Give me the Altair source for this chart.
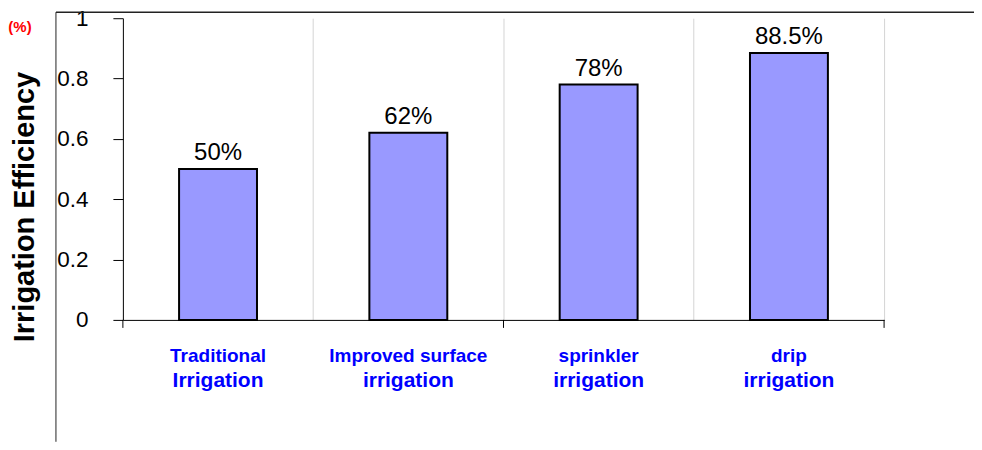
import altair as alt
import pandas as pd

# ---- data ----
label_line1 = ["Traditional", "Improved surface", "sprinkler", "drip"]
label_line2 = ["Irrigation", "irrigation", "irrigation", "irrigation"]
efficiency = [0.50, 0.62, 0.78, 0.885]
value_labels = ["50%", "62%", "78%", "88.5%"]
y_ticks = [0, 0.2, 0.4, 0.6, 0.8, 1]
y_title = ["Irrigation Efficiency"]
unit_note = ["(%)"]

categories = [f"{a} {b}" for a, b in zip(label_line1, label_line2)]
df = pd.DataFrame({
    "cat": categories,
    "line1": label_line1,
    "line2": label_line2,
    "eff": efficiency,
    "lab": value_labels,
})

W, H = 762, 302
FONT = "Liberation Sans"
BLUE = "#0000ff"

x_enc = alt.X(
    "cat:N", sort=categories,
    scale=alt.Scale(paddingInner=0, paddingOuter=0),
    axis=alt.Axis(title=None, labels=False, ticks=False, domain=True,
                  domainColor="black", domainWidth=1, grid=True,
                  gridColor="#d4d4d4", gridWidth=1, bandPosition=1),
)
y_enc = alt.Y(
    "eff:Q",
    scale=alt.Scale(domain=[0, 1], nice=False, zero=True),
    axis=alt.Axis(title=None, values=y_ticks, format=".1~f", grid=False,
                  domainColor="black", tickColor="black", tickSize=10,
                  labelFont=FONT, labelFontSize=22.5, labelColor="black",
                  labelPadding=25),
)

base = alt.Chart(df)

bars = base.mark_bar(size=78, fill="#9999ff", stroke="black", strokeWidth=2).encode(
    x=x_enc, y=y_enc
)

values_txt = base.mark_text(dy=-9, baseline="alphabetic", fontSize=24, font=FONT,
                            color="black").encode(
    x=alt.X("cat:N", sort=categories), y=alt.Y("eff:Q"), text="lab:N"
)

lab1 = base.mark_text(baseline="alphabetic", fontSize=19, font=FONT,
                      fontWeight="bold", color=BLUE).encode(
    x=alt.X("cat:N", sort=categories), y=alt.value(344), text="line1:N"
)
lab2 = base.mark_text(baseline="alphabetic", fontSize=21, font=FONT,
                      fontWeight="bold", color=BLUE).encode(
    x=alt.X("cat:N", sort=categories), y=alt.value(369), text="line2:N"
)

# x-axis tick marks every second category boundary
ticks_end = alt.Chart(df.iloc[[1, 3]]).mark_rule(color="black", strokeWidth=1).encode(
    x=alt.X("cat:N", sort=categories, bandPosition=1),
    y=alt.value(H), y2=alt.value(H + 8),
)
ticks_start = alt.Chart(df.iloc[[0]]).mark_rule(color="black", strokeWidth=1).encode(
    x=alt.X("cat:N", sort=categories, bandPosition=0),
    y=alt.value(H), y2=alt.value(H + 8),
)

title_df = pd.DataFrame({"t": y_title})
ytitle = alt.Chart(title_df).mark_text(angle=270, fontSize=29, fontWeight="bold",
                                       font=FONT, baseline="middle", align="center",
                                       color="black").encode(
    x=alt.value(-98), y=alt.value(189), text="t:N"
)

note_df = pd.DataFrame({"t": unit_note})
note = alt.Chart(note_df).mark_text(fontSize=15, fontWeight="bold", font=FONT,
                                    baseline="middle", align="center",
                                    color="#ff0000").encode(
    x=alt.value(-103), y=alt.value(9), text="t:N"
)

frame_df = pd.DataFrame({"k": [0]})
frame_v = alt.Chart(frame_df).mark_rule(color="#222222", strokeWidth=1).encode(
    x=alt.value(-67), y=alt.value(-6), y2=alt.value(H + 122)
)
frame_h = alt.Chart(frame_df).mark_rule(color="#222222", strokeWidth=1.5).encode(
    x=alt.value(-67), x2=alt.value(W + 90), y=alt.value(-6)
)

chart = alt.layer(
    bars, values_txt, lab1, lab2, ticks_end, ticks_start, ytitle, note, frame_v, frame_h
).properties(
    width=W, height=H, autosize="none",
    padding={"left": 115, "top": 10, "right": 90, "bottom": 122},
).configure_view(stroke=None)

chart.save("out.html", embed_options={"renderer": "svg", "actions": False})
